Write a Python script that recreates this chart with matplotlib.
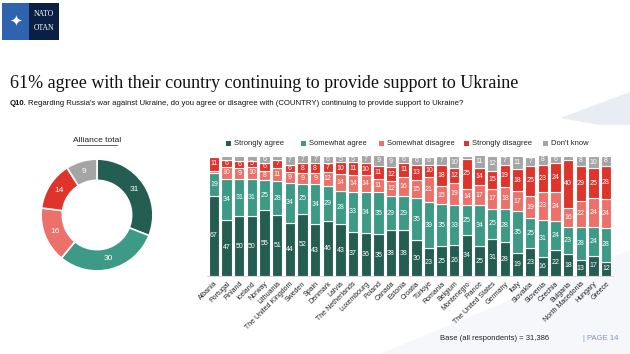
import numpy as np
import matplotlib
matplotlib.use("Agg")
import matplotlib.pyplot as plt
from matplotlib.patches import Rectangle, Polygon

# survey data
countries = ["Albania", "Portugal", "Finland", "Iceland", "Norway", "Lithuania",
             "The United Kingdom", "Sweden", "Spain", "Denmark", "Latvia",
             "The Netherlands", "Luxembourg", "Poland", "Canada", "Estonia",
             "Croatia", "Türkiye", "Romania", "Belgium", "Montenegro", "France",
             "The United States", "Germany", "Italy", "Slovakia", "Slovenia",
             "Czechia", "Bulgaria", "North Macedonia", "Hungary", "Greece"]
strongly_agree = [67, 47, 50, 50, 55, 51, 44, 52, 43, 46, 43, 37, 36, 35, 38, 38,
                  30, 23, 25, 26, 34, 25, 31, 28, 19, 23, 16, 22, 18, 13, 17, 12]
somewhat_agree = [19, 34, 31, 31, 25, 28, 34, 25, 34, 29, 28, 33, 34, 35, 29, 29,
                  35, 39, 35, 33, 25, 34, 25, 28, 35, 25, 31, 24, 23, 28, 24, 28]
somewhat_disagree = [2, 10, 9, 10, 8, 11, 9, 9, 9, 12, 14, 14, 14, 11, 12, 16,
                     15, 21, 15, 19, 14, 17, 17, 18, 17, 19, 23, 24, 16, 22, 24, 24]
strongly_disagree = [11, 6, 6, 5, 6, 7, 6, 8, 8, 7, 10, 11, 10, 11, 12, 11,
                     13, 10, 18, 12, 25, 14, 15, 19, 18, 25, 23, 24, 40, 29, 25, 28]
dont_know = [1, 3, 4, 4, 6, 3, 7, 7, 7, 6, 5, 5, 7, 9, 9, 6,
             6, 6, 7, 10, 2, 11, 12, 7, 11, 7, 8, 6, 3, 8, 10, 8]

categories = ["Strongly agree", "Somewhat agree", "Somewhat disagree",
              "Strongly disagree", "Don't know"]
alliance_total = [31, 30, 16, 14, 9]
colors = ["#245e52", "#3d9a87", "#ec716a", "#de342c", "#a5a5a5"]

W, H = 630, 354
fig = plt.figure(figsize=(W / 100, H / 100), dpi=100)
fig.patch.set_facecolor("white")


def fx(px):
    return px / W


def fy(py):
    return 1 - py / H


# faint background shapes (kept behind everything)
fig.patches.append(Polygon([[fx(560), fy(118)], [fx(630), fy(92)], [fx(630), fy(125)], [fx(600), fy(125)]],
                           closed=True, transform=fig.transFigure, facecolor="#e8edf3",
                           edgecolor="none", zorder=-10))
fig.patches.append(Polygon([[fx(380), fy(354)], [fx(630), fy(250)], [fx(630), fy(354)]],
                           closed=True, transform=fig.transFigure, facecolor="#f5f7fa",
                           edgecolor="none", zorder=-10))

# NATO logo block
fig.patches.append(Rectangle((fx(2), fy(40)), fx(27), 37 / H, transform=fig.transFigure,
                             facecolor="#2f63b0", edgecolor="none"))
fig.patches.append(Rectangle((fx(29), fy(40)), fx(30), 37 / H, transform=fig.transFigure,
                             facecolor="#0b1f45", edgecolor="none"))
fig.text(fx(15.5), fy(21.5), "✦", color="white", fontsize=11, ha="center", va="center")
fig.text(fx(44), fy(14), "NATO", color="white", fontsize=5.5, ha="center", va="center",
         family="Liberation Serif")
fig.text(fx(44), fy(28), "OTAN", color="white", fontsize=5.5, ha="center", va="center",
         family="Liberation Serif")

# titles
fig.text(fx(10), fy(83), "61% agree with their country continuing to provide support to Ukraine",
         fontsize=13, family="Liberation Serif", color="#111111", va="center")
fig.text(fx(10), fy(104), "Q10.", fontsize=5.6, fontweight="bold", color="#111111", va="center",
         family="Liberation Sans")
fig.text(fx(28), fy(104),
         "Regarding Russia's war against Ukraine, do you agree or disagree with (COUNTRY) "
         "continuing to provide support to Ukraine?",
         fontsize=5.6, color="#111111", va="center", family="Liberation Sans")

# donut
ax_d = fig.add_axes([fx(40), fy(272), fx(114), 114 / H])
ax_d.pie(alliance_total, colors=colors, startangle=90, counterclock=False, radius=1,
         wedgeprops=dict(width=0.38, edgecolor="white", linewidth=1.2))
mid = 1 - 0.19
ang = 90 - np.cumsum([0] + alliance_total[:-1]) * 3.6 - np.array(alliance_total) * 1.8
for a, v in zip(ang, alliance_total):
    ax_d.text(mid * np.cos(np.radians(a)), mid * np.sin(np.radians(a)), str(v),
              color="white", fontsize=6, ha="center", va="center", family="Liberation Sans")
ax_d.set_xlim(-1.02, 1.02)
ax_d.set_ylim(-1.02, 1.02)
ax_d.set_aspect("equal")
ax_d.axis("off")
fig.text(fx(97), fy(140), "Alliance total", fontsize=6, ha="center", va="center",
         family="Liberation Sans", color="#222222")
fig.add_artist(plt.Line2D([fx(77), fx(117)], [fy(144.5), fy(144.5)], transform=fig.transFigure,
                          color="#222222", linewidth=0.5))

# stacked bars
ax = fig.add_axes([fx(207), fy(276), fx(406), 121 / H])
x = np.arange(len(countries))
series = [strongly_agree, somewhat_agree, somewhat_disagree, strongly_disagree, dont_know]
bottom = np.zeros(len(countries))
for vals, c in zip(series, colors):
    vals = np.array(vals)
    ax.bar(x, vals, bottom=bottom, width=0.82, color=c, edgecolor="white", linewidth=0.8)
    for xi, b, v in zip(x, bottom, vals):
        if v >= 5:
            ax.text(xi, b + v / 2, str(v), color="white", fontsize=5, ha="center", va="center",
                    family="Liberation Sans")
    bottom += vals
ax.set_xlim(-0.55, len(countries) - 0.45)
ax.set_ylim(0, 101)
ax.set_yticks([])
ax.set_xticks(x)
ax.set_xticklabels(countries, rotation=45, ha="right", va="top", rotation_mode="anchor",
                   fontsize=5, family="Liberation Sans", color="#222222")
ax.tick_params(axis="x", length=0, pad=3)
for s in ["top", "right", "left"]:
    ax.spines[s].set_visible(False)
ax.spines["bottom"].set_color("#e6c8c8")
ax.spines["bottom"].set_linewidth(0.6)
ax.patch.set_alpha(0)

# legend
leg_x = [226, 301, 379, 464, 543]
for lx, lab, c in zip(leg_x, categories, colors):
    fig.patches.append(Rectangle((fx(lx), fy(146)), fx(5), 5 / H, transform=fig.transFigure,
                                 facecolor=c, edgecolor="none"))
    fig.text(fx(lx + 8), fy(143.5), lab, fontsize=5.5, va="center", family="Liberation Sans",
             color="#222222")

# footer
fig.text(fx(440), fy(339), "Base (all respondents) = 31,386", fontsize=5.5, va="center",
         family="Liberation Sans", color="#222222")
fig.text(fx(583), fy(339), "| PAGE 14", fontsize=5.5, va="center", family="Liberation Sans",
         color="#7d93b5")

fig.savefig("out.png", dpi=100)
